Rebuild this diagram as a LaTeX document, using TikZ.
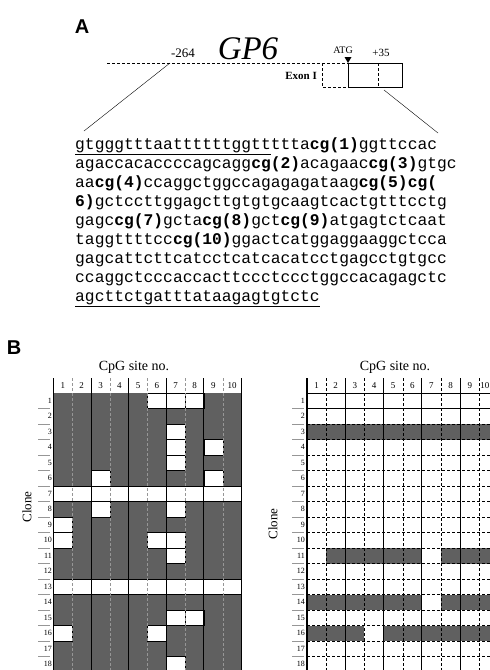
\documentclass[tikz,border=0pt]{standalone}
\usepackage{fontspec}
\setmainfont{Liberation Serif}
\setsansfont{Liberation Sans}
\setmonofont{Liberation Mono}
\usepackage{xcolor}
\definecolor{CellDark}{RGB}{96,96,96}
\definecolor{MidGray}{RGB}{150,150,150}
\usepackage{tikz}
\usetikzlibrary{positioning}
\newcommand{\cpg}[1]{\textbf{cg(#1)}}
\tikzset{
  % Panel letters
  panel/.style={font=\sffamily\bfseries\fontsize{20}{20}\selectfont, inner sep=0pt},
  % One line of the promoter sequence
  seqline/.style={anchor=base west, inner sep=0pt, font=\ttfamily\fontsize{16.3}{19}\selectfont},
  % Texts of the gene map and of the grids
  maplabel/.style={inner sep=0pt, font=\fontsize{11}{11}\selectfont},
  axtitle/.style={inner sep=0pt, font=\fontsize{14}{14}\selectfont},
  clonelbl/.style={inner sep=0pt, rotate=90, font=\fontsize{13}{13}\selectfont},
  collbl/.style={inner sep=0pt, font=\fontsize{9}{9}\selectfont},
  rowlbl/.style={anchor=east, inner sep=1pt, font=\fontsize{8}{8}\selectfont},
  % Lines
  zoomline/.style={thin, black},
  pairline/.style={line width=1.1pt, black},
  midline/.style={densely dashed, thin, MidGray},
  middash/.style={densely dashed, thin, black},
  rowline/.style={densely dashed, thin, black},
  rowtick/.style={thin, MidGray},
  whitecell/.style={fill=white, draw=black, thin},
}

\begin{document}
\begin{tikzpicture}[x=1pt, y=-1pt]
  \useasboundingbox (0,0) rectangle (490,670);

  %% Panel A: gene map
  \node[panel] (pA) at (82,27) {A};
  \node[inner sep=0pt, font=\itshape\fontsize{33}{33}\selectfont] (gp6) at (248,49) {GP6};
  \node[maplabel, font=\fontsize{13}{13}\selectfont] (lbl264) at (183,53) {-264};
  \node[maplabel, font=\fontsize{10}{10}\selectfont] (lblatg) at (343,50) {ATG};
  \node[maplabel] (lbl35) at (381,53) {+35};
  \node[maplabel, anchor=east, font=\bfseries\fontsize{11}{11}\selectfont] (exon) at (317,76) {Exon I};

  \coordinate (m264) at (170,63);
  \coordinate (atg) at (348,63);
  \coordinate (m35) at (384,90);
  \draw[densely dashed, line width=0.9pt] (107,63) -- (atg);
  \draw[thick] (atg) rectangle (402,87);
  \draw[densely dashed] (322,63) -- (322,87) -- (348,87);
  \draw[densely dashed] (378,63) -- (378,87);
  \fill (atg) ++(-3.5,-6) -- ++(7,0) -- ++(-3.5,6) -- cycle;

  %% Promoter sequence
  \node[seqline] (s1) at (75,149) {\underline{gtgggtttaattttttggtt}ttta\cpg{1}ggttccac};
  \node[seqline] (s2) at (75,168) {agaccacaccccagcagg\cpg{2}acagaac\cpg{3}gtgc};
  \node[seqline] (s3) at (75,187) {aa\cpg{4}ccaggctggccagagagataag\cpg{5}\textbf{cg(}};
  \node[seqline] (s4) at (75,206) {\textbf{6)}gctccttggagcttgtgtgcaagtcactgtttcctg};
  \node[seqline] (s5) at (75,225) {gagc\cpg{7}gcta\cpg{8}gct\cpg{9}atgagtctcaat};
  \node[seqline] (s6) at (75,244) {taggttttcc\cpg{10}ggactcatggaggaaggctcca};
  \node[seqline] (s7) at (75,263) {gagcattcttcatcctcatcacatcctgagcctgtgcc};
  \node[seqline] (s8) at (75,282) {ccaggctcccaccacttccctccctggccacagagctc};
  \node[seqline] (s9) at (75,301) {\underline{agcttctgatttataagagtgtctc}};

  \coordinate (seqL) at (84,131);
  \coordinate (seqR) at (438,133);
  \draw[zoomline] (m264) -- (seqL);
  \draw[zoomline] (m35) -- (seqR);

  %% Panel B
  \node[panel] (pB) at (14,348) {B};

  %% Left grid: methylated clones
  \node[axtitle] (titleL) at (134,367) {CpG site no.};
  \node[clonelbl] (cloneL) at (27,507) {Clone};
  \fill[CellDark] (53.5,393) rectangle (241.5,670);
  \foreach \r/\c in {1/6,1/7,1/8,3/7,4/7,4/9,5/7,6/3,6/9,8/3,8/7,9/1,
                     10/1,10/6,10/7,11/7,15/7,15/8,16/1,16/6,18/7}
    \draw[whitecell] ({53.5+(\c-1)*18.8},{393+(\r-1)*15.5}) rectangle ++(18.8,15.5);
  \foreach \r in {7,13}
    \draw[whitecell] (53.5,{393+(\r-1)*15.5}) rectangle ++(188,15.5);
  \foreach \i in {0,...,4}
    \draw[midline] ({72.3+\i*37.6},378) -- ++(0,292);
  \foreach \i in {0,...,5}
    \draw[pairline] ({53.5+\i*37.6},378) -- ++(0,292);
  \foreach \c in {1,...,10}
    \node[collbl] (hL\c) at ({44.1+\c*18.8},386) {\c};
  \foreach \r in {1,...,18}
    \node[rowlbl] (rL\r) at (53,{385.25+\r*15.5}) {\r};
  \foreach \r in {1,...,17}
    \draw[rowtick] (38,{393+\r*15.5}) -- ++(12,0);

  %% Right grid: unmethylated clones
  \node[axtitle] (titleR) at (395,367) {CpG site no.};
  \node[clonelbl] (cloneR) at (273,524) {Clone};
  \foreach \r/\a/\b in {3/1/10, 11/2/6, 11/8/10, 14/1/6, 14/8/10, 16/1/3, 16/5/10}
    \fill[CellDark] ({307+(\a-1)*19.15},{393+(\r-1)*15.5}) rectangle ({307+\b*19.15},{393+\r*15.5});
  \foreach \r in {1,...,17}
    \draw[rowline] (307,{393+\r*15.5}) -- (490,{393+\r*15.5});
  \draw[thin] (307,393) -- (490,393);
  \draw[line width=0.8pt] (307,408.5) -- (490,408.5);
  \foreach \i in {0,...,4}
    \draw[middash] ({326.15+\i*38.3},378) -- ++(0,292);
  \foreach \i in {0,...,4}
    \draw[pairline] ({307+\i*38.3},378) -- ++(0,292);
  \foreach \c in {1,...,9}
    \node[collbl] (hR\c) at ({297.4+\c*19.15},386) {\c};
  \node[collbl, anchor=east] (hR10) at (489.5,386) {10};
  \foreach \r in {1,...,18}
    \node[rowlbl] (rR\r) at (306,{385.25+\r*15.5}) {\r};
  \foreach \r in {1,...,17}
    \draw[rowtick] (292,{393+\r*15.5}) -- ++(12,0);
\end{tikzpicture}
\end{document}
